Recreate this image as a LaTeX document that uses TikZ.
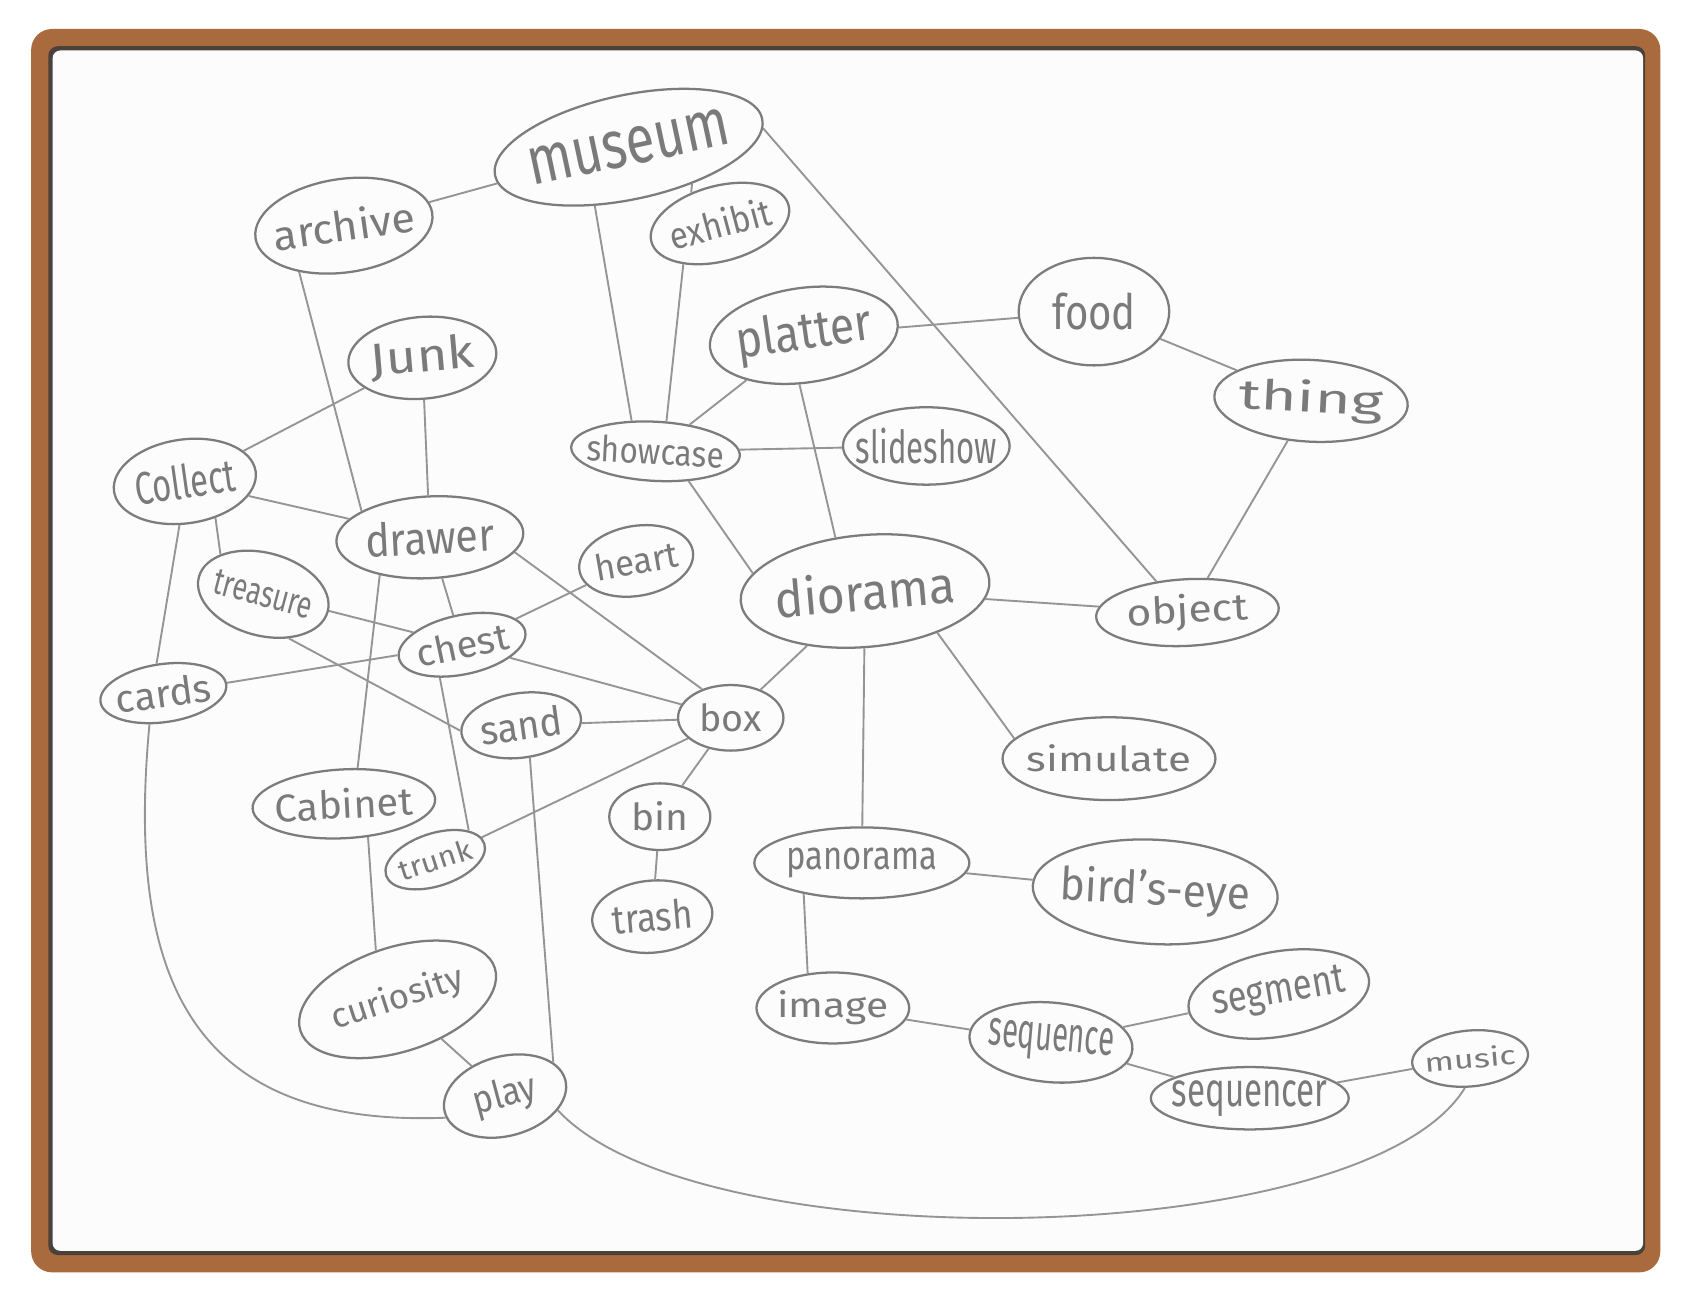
\documentclass[tikz,border=0pt]{standalone}
\usepackage{fontspec}
\setmainfont{Fira Sans}
\usepackage{graphicx}
\usetikzlibrary{shapes.geometric}
\definecolor{framebrown}{HTML}{A96B3D}
\definecolor{framedark}{HTML}{4A413B}
\definecolor{pencil}{HTML}{959595}
\definecolor{pencildark}{HTML}{7C7C7C}
\definecolor{ink}{HTML}{7A7A7A}
\newcommand{\hw}[3]{\makebox[0pt]{\resizebox{#1cm}{#2cm}{#3}}}
\tikzset{
  bub/.style={ellipse, draw=pencildark, line width=0.6pt, inner sep=0pt, text=ink},
  link/.style={draw=pencil, line width=0.5pt},
}
\begin{document}
\begin{tikzpicture}[x=0.01cm,y=-0.01cm]
\useasboundingbox (0,0) rectangle (1568,1207);
\fill[white] (0,0) rectangle (1568,1207);
\fill[framebrown, rounded corners=5.5pt] (29,27) rectangle (1545,1184);
\fill[framedark, rounded corners=2.5pt] (45,43) rectangle (1531,1168);
\fill[white!99!black, rounded corners=2pt] (49,47) rectangle (1529,1164);

% nodes
\node[bub, minimum width=2.54cm, minimum height=0.97cm, rotate=12] (museum) at (585,137) {\hw{1.90}{0.34}{museum}};
\node[bub, minimum width=1.66cm, minimum height=0.87cm, rotate=8] (archive) at (320,210) {\hw{1.32}{0.30}{archive}};
\node[bub, minimum width=1.32cm, minimum height=0.70cm, rotate=15] (exhibit) at (670,208) {\hw{0.96}{0.27}{exhibit}};
\node[bub, minimum width=1.76cm, minimum height=0.88cm, rotate=8] (platter) at (748,312) {\hw{1.27}{0.36}{platter}};
\node[bub, minimum width=1.40cm, minimum height=1.00cm] (food) at (1018,290) {\hw{0.78}{0.34}{food}};
\node[bub, minimum width=1.80cm, minimum height=0.76cm, rotate=-3] (thing) at (1220,373) {\hw{1.34}{0.30}{thing}};
\node[bub, minimum width=1.38cm, minimum height=0.76cm, rotate=5] (junk) at (393,333) {\hw{0.97}{0.32}{Junk}};
\node[bub, minimum width=1.33cm, minimum height=0.78cm, rotate=8] (collect) at (172,448) {\hw{0.94}{0.32}{Collect}};
\node[bub, minimum width=1.57cm, minimum height=0.55cm, rotate=-3] (showcase) at (610,420) {\hw{1.28}{0.25}{showcase}};
\node[bub, minimum width=1.55cm, minimum height=0.72cm] (slideshow) at (862,415) {\hw{1.31}{0.33}{slideshow}};
\node[bub, minimum width=1.74cm, minimum height=0.76cm, rotate=3] (drawer) at (400,500) {\hw{1.20}{0.32}{drawer}};
\node[bub, minimum width=1.07cm, minimum height=0.65cm, rotate=10] (heart) at (592,522) {\hw{0.78}{0.25}{heart}};
\node[bub, minimum width=2.32cm, minimum height=1.04cm, rotate=5] (diorama) at (805,550) {\hw{1.68}{0.37}{diorama}};
\node[bub, minimum width=1.70cm, minimum height=0.62cm, rotate=3] (object) at (1105,570) {\hw{1.13}{0.27}{object}};
\node[bub, minimum width=1.24cm, minimum height=0.77cm, rotate=-15] (treasure) at (245,553) {\hw{0.94}{0.23}{treasure}};
\node[bub, minimum width=1.20cm, minimum height=0.55cm, rotate=12] (chest) at (430,600) {\hw{0.87}{0.26}{chest}};
\node[bub, minimum width=1.18cm, minimum height=0.54cm, rotate=8] (cards) at (152,645) {\hw{0.89}{0.27}{cards}};
\node[bub, minimum width=1.12cm, minimum height=0.60cm, rotate=8] (sand) at (485,675) {\hw{0.77}{0.28}{sand}};
\node[bub, minimum width=0.98cm, minimum height=0.61cm] (box) at (680,668) {\hw{0.58}{0.26}{box}};
\node[bub, minimum width=1.98cm, minimum height=0.77cm] (simulate) at (1032,706) {\hw{1.53}{0.25}{simulate}};
\node[bub, minimum width=1.70cm, minimum height=0.64cm, rotate=3] (cabinet) at (320,748) {\hw{1.28}{0.28}{Cabinet}};
\node[bub, minimum width=0.94cm, minimum height=0.62cm] (bin) at (614,760) {\hw{0.53}{0.27}{bin}};
\node[bub, minimum width=0.96cm, minimum height=0.49cm, rotate=18] (trunk) at (405,800) {\hw{0.70}{0.20}{trunk}};
\node[bub, minimum width=2.00cm, minimum height=0.66cm] (panorama) at (802,803) {\hw{1.40}{0.20}{panorama}};
\node[bub, minimum width=2.28cm, minimum height=0.97cm, rotate=-3] (birdseye) at (1075,830) {\hw{1.77}{0.33}{bird's-eye}};
\node[bub, minimum width=1.12cm, minimum height=0.67cm, rotate=5] (trash) at (607,853) {\hw{0.75}{0.28}{trash}};
\node[bub, minimum width=1.90cm, minimum height=0.97cm, rotate=18] (curiosity) at (370,930) {\hw{1.27}{0.25}{curiosity}};
\node[bub, minimum width=1.42cm, minimum height=0.66cm] (image) at (775,938) {\hw{1.03}{0.25}{image}};
\node[bub, minimum width=1.70cm, minimum height=0.79cm, rotate=10] (segment) at (1190,925) {\hw{1.25}{0.26}{segment}};
\node[bub, minimum width=1.52cm, minimum height=0.74cm, rotate=-5] (sequence) at (978,970) {\hw{1.17}{0.25}{sequence}};
\node[bub, minimum width=1.08cm, minimum height=0.52cm, rotate=5] (music) at (1368,985) {\hw{0.85}{0.19}{music}};
\node[bub, minimum width=1.16cm, minimum height=0.74cm, rotate=15] (play) at (470,1020) {\hw{0.60}{0.27}{play}};
\node[bub, minimum width=1.84cm, minimum height=0.58cm] (sequencer) at (1163,1022) {\hw{1.45}{0.24}{sequencer}};

% connectors
\draw[link] (archive) -- (museum);
\draw[link] (museum.318) -- (exhibit.118);
\draw[link] (museum.228) -- (showcase.131);
\draw[link] (exhibit.213) -- (showcase.73);
\draw[link] (museum.356) -- (object.132);
\draw[link] (platter) -- (food);
\draw[link] (food) -- (thing);
\draw[link] (thing) -- (object);
\draw[link] (platter) -- (showcase);
\draw[link] (platter.257) -- (diorama.114);
\draw[link] (showcase) -- (slideshow);
\draw[link] (showcase.321) -- (diorama.166);
\draw[link] (archive.218) -- (drawer.156);
\draw[link] (junk) -- (collect);
\draw[link] (junk) -- (drawer);
\draw[link] (collect) -- (drawer);
\draw[link] (collect.302) -- (treasure.152);
\draw[link] (collect.255) -- (cards.95);
\draw[link] (drawer) -- (chest);
\draw[link] (drawer.347) -- (box.135);
\draw[link] (drawer.214) -- (cabinet.66);
\draw[link] (cabinet.303) -- (curiosity.96);
\draw[link] (treasure) -- (chest);
\draw[link] (treasure.315) -- (sand.177);
\draw[link] (heart) -- (chest);
\draw[link] (chest) -- (cards);
\draw[link] (chest) -- (box);
\draw[link] (chest.224) -- (trunk.23);
\draw[link] (sand) -- (box);
\draw[link] (sand.277) -- (play.20);
\draw[link] (box) -- (trunk);
\draw[link] (box) -- (bin);
\draw[link] (box) -- (diorama);
\draw[link] (bin) -- (trash);
\draw[link] (diorama) -- (object);
\draw[link] (diorama.325) -- (simulate.168);
\draw[link] (diorama) -- (panorama);
\draw[link] (panorama) -- (birdseye);
\draw[link] (panorama.208) -- (image.126);
\draw[link] (image) -- (sequence);
\draw[link] (sequence) -- (segment);
\draw[link] (sequence) -- (sequencer);
\draw[link] (sequencer) -- (music);
\draw[link] (curiosity) -- (play);
\draw[link] (cards.238) .. controls (118,900) and (170,1050) .. (play.185);
\draw[link] (play.330) .. controls (650,1175) and (1270,1165) .. (music.255);
\end{tikzpicture}
\end{document}
